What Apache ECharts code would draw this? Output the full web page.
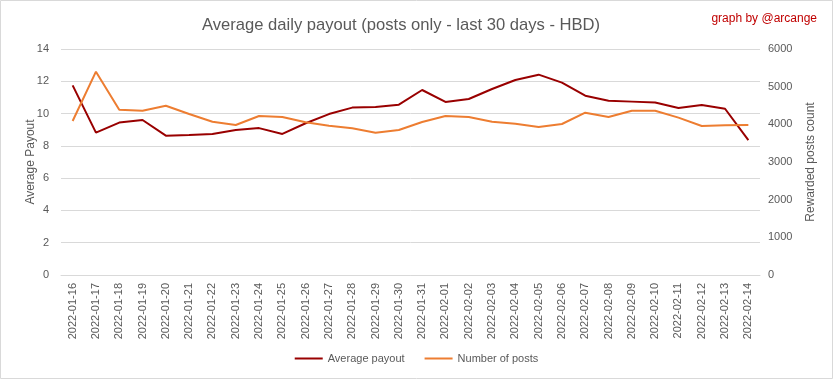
<!DOCTYPE html>
<html>
<head>
<meta charset="utf-8">
<script src="https://cdn.jsdelivr.net/npm/echarts@6/dist/echarts.min.js"></script>
<style>html,body{margin:0;padding:0;background:#fff;}#c{width:833px;height:379px;}</style>
</head>
<body>
<div id="c"></div>
<script>
const categories = ["2022-01-16","2022-01-17","2022-01-18","2022-01-19","2022-01-20","2022-01-21","2022-01-22","2022-01-23","2022-01-24","2022-01-25","2022-01-26","2022-01-27","2022-01-28","2022-01-29","2022-01-30","2022-01-31","2022-02-01","2022-02-02","2022-02-03","2022-02-04","2022-02-05","2022-02-06","2022-02-07","2022-02-08","2022-02-09","2022-02-10","2022-02-11","2022-02-12","2022-02-13","2022-02-14"];
const averagePayout = [11.75,8.82,9.44,9.6,8.63,8.67,8.74,8.98,9.1,8.74,9.4,9.97,10.37,10.41,10.55,11.46,10.72,10.9,11.52,12.08,12.41,11.92,11.11,10.8,10.74,10.68,10.35,10.53,10.3,8.36];
const numberOfPosts = [4088,5398,4389,4362,4495,4274,4070,3982,4221,4194,4053,3965,3894,3779,3849,4062,4221,4194,4070,4017,3929,4009,4310,4194,4362,4362,4177,3955,3973,3982];
const leftTicks = {min:0,max:14,interval:2};
const rightTicks = {min:0,max:6000,interval:1000};

const txt = '#595959';
const font = "'Liberation Sans', Arial, sans-serif";
const chart = echarts.init(document.getElementById('c'));
chart.setOption({
  animation:false,
  textStyle:{fontFamily:font},
  title:[
    {text:'Average daily payout (posts only - last 30 days - HBD)',left:197,top:12,textStyle:{fontSize:16.6,fontWeight:'normal',color:txt,fontFamily:font}},
    {text:'graph by @arcange',right:11,top:8,textStyle:{fontSize:12,fontWeight:'normal',color:'#c00000',fontFamily:font}}
  ],
  graphic:[{type:'rect',shape:{x:0.5,y:0.5,width:832,height:378},style:{fill:'none',stroke:'#d9d9d9',lineWidth:1},silent:true}],
  grid:{left:61,right:73,top:49,bottom:104},
  legend:{bottom:10,left:'center',itemWidth:28,itemHeight:2,itemGap:20,icon:'rect',
    textStyle:{color:txt,fontSize:11,fontFamily:font},
    data:['Average payout','Number of posts']},
  xAxis:{type:'category',data:categories,boundaryGap:true,
    axisLine:{lineStyle:{color:'#d9d9d9'}},axisTick:{show:false},
    axisLabel:{rotate:90,interval:0,color:txt,fontSize:11,margin:8,fontFamily:font}},
  yAxis:[
    {type:'value',min:leftTicks.min,max:leftTicks.max,interval:leftTicks.interval,
     name:'Average Payout',nameLocation:'middle',nameGap:24,nameMoveOverlap:false,nameTextStyle:{color:txt,fontSize:12,fontFamily:font},
     axisLabel:{color:txt,fontSize:11,margin:12,fontFamily:font},axisLine:{show:false},axisTick:{show:false},
     splitLine:{lineStyle:{color:'#d9d9d9'}}},
    {type:'value',min:rightTicks.min,max:rightTicks.max,interval:rightTicks.interval,position:'right',
     name:'Rewarded posts count',nameLocation:'middle',nameGap:45,nameRotate:90,nameMoveOverlap:false,nameTextStyle:{color:txt,fontSize:12,fontFamily:font},
     axisLabel:{color:txt,fontSize:11,margin:8,fontFamily:font,formatter:v=>String(v)},axisLine:{show:false},axisTick:{show:false},
     splitLine:{show:false}}
  ],
  series:[
    {name:'Average payout',type:'line',yAxisIndex:0,data:averagePayout,symbol:'none',
     lineStyle:{color:'#990000',width:2},itemStyle:{color:'#990000'}},
    {name:'Number of posts',type:'line',yAxisIndex:1,data:numberOfPosts,symbol:'none',
     lineStyle:{color:'#ed7d31',width:2},itemStyle:{color:'#ed7d31'}}
  ]
});
</script>
</body>
</html>
